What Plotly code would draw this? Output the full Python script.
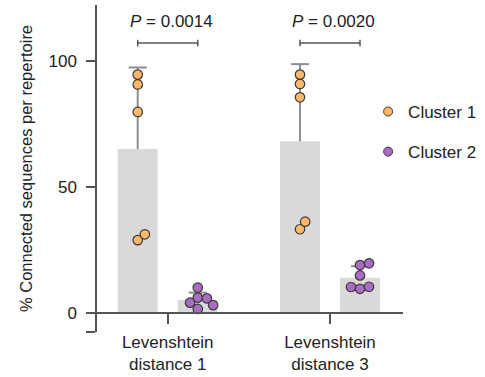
import math
import numpy as np
import plotly.graph_objects as go

# ---------------- data ----------------
categories = ["Levenshtein<br>distance 1", "Levenshtein<br>distance 3"]
series_names = ["Cluster 1", "Cluster 2"]
cluster1_values = [
    [94.5, 90.6, 79.7, 28.9, 31.2],   # distance 1
    [94.5, 90.8, 85.5, 33.2, 36.2],   # distance 3
]
cluster2_values = [
    [10.1, 6.1, 5.8, 4.1, 3.1, 1.6],  # distance 1
    [19.0, 19.7, 14.9, 9.6, 10.4, 10.3],  # distance 3
]
p_values = ["0.0014", "0.0020"]
y_tick_values = [0, 50, 100]
y_tick_labels = ["0", "50", "100"]

# ---------------- style / layout ----------------
W, H = 485, 377
M_L, M_R, M_T, M_B = 97, 82, 5, 45
X_RANGE = [-0.436, 1.45]
Y_RANGE = [-7.53, 122.1]
BAR_OFFSET = 0.185
BAR_WIDTH = 0.246
BRACKET_Y = 107
BRACKET_TICK = 1.3
FONT = "Liberation Sans, Arial, Helvetica, sans-serif"
TXT = "#222222"
AXIS = "#555555"
BAR_COLOR = "#d9d9d9"
ERR_COLOR = "#8e8e8e"
COLORS = ["#ffb867", "#a96cc3"]
OUTLINE = "#3a3a3a"
MARKER = 9.5
CAP_PX = 9

px_per_x = (W - M_L - M_R) / (X_RANGE[1] - X_RANGE[0])
px_per_y = (H - M_T - M_B) / (Y_RANGE[1] - Y_RANGE[0])


def swarm(values, diam=9.2):
    placed, out = [], []
    for v in values:
        y = v * px_per_y
        cands = [0.0]
        for xp, yp in placed:
            dy = abs(y - yp)
            if dy < diam:
                dx = math.sqrt(diam ** 2 - dy ** 2)
                cands += [xp + dx, xp - dx]
        cands.sort(key=abs)
        chosen = 0.0
        for c in cands:
            if all((c - xp) ** 2 + (y - yp) ** 2 >= diam ** 2 - 1e-6 for xp, yp in placed):
                chosen = c
                break
        placed.append((chosen, y))
        out.append(chosen / px_per_x)
    return out


fig = go.Figure()
group_x = list(range(len(categories)))
cap = CAP_PX / px_per_x

for si, (name, vals) in enumerate(zip(series_names, [cluster1_values, cluster2_values])):
    sign = -1 if si == 0 else 1
    xs = [g + sign * BAR_OFFSET for g in group_x]
    means = [float(np.mean(v)) for v in vals]
    sds = [float(np.std(v, ddof=1)) for v in vals]
    fig.add_trace(go.Bar(
        x=xs, y=means, width=BAR_WIDTH, marker=dict(color=BAR_COLOR, line=dict(width=0)),
        showlegend=False, hoverinfo="skip",
    ))
    ex, ey = [], []
    for xc, m, s in zip(xs, means, sds):
        ex += [xc, xc, None, xc - cap, xc + cap, None]
        ey += [m, m + s, None, m + s, m + s, None]
    fig.add_trace(go.Scatter(x=ex, y=ey, mode="lines", line=dict(color=ERR_COLOR, width=2),
                             showlegend=False, hoverinfo="skip"))
    for gi, v in enumerate(vals):
        offs = swarm(v)
        fig.add_trace(go.Scatter(
            x=[xs[gi] + o for o in offs], y=v, mode="markers",
            marker=dict(size=MARKER, color=COLORS[si], line=dict(color=OUTLINE, width=1.2)),
            name=name, legendgroup=name, showlegend=False,
        ))
    fig.add_trace(go.Scatter(
        x=[None], y=[None], mode="markers",
        marker=dict(size=9, color=COLORS[si], line=dict(color=OUTLINE, width=1)),
        name=name, legendgroup=name, showlegend=True,
    ))

# significance brackets
for g, p in zip(group_x, p_values):
    x1, x2 = g - BAR_OFFSET, g + BAR_OFFSET
    fig.add_shape(type="line", x0=x1, x1=x2, y0=BRACKET_Y, y1=BRACKET_Y,
                  line=dict(color=AXIS, width=1.5))
    for xe in (x1, x2):
        fig.add_shape(type="line", x0=xe, x1=xe, y0=BRACKET_Y - BRACKET_TICK,
                      y1=BRACKET_Y + BRACKET_TICK, line=dict(color=AXIS, width=1.5))
    fig.add_annotation(x=g, y=BRACKET_Y, yshift=22, xshift=4, text=f"<i>P</i> = {p}",
                       showarrow=False, font=dict(family=FONT, size=17, color=TXT))

fig.update_layout(
    width=W, height=H,
    margin=dict(l=M_L, r=M_R, t=M_T, b=M_B, autoexpand=False),
    plot_bgcolor="white", paper_bgcolor="white",
    barmode="overlay",
    font=dict(family=FONT, size=17, color=TXT),
    legend=dict(x=0.886, y=0.728, xanchor="left", yanchor="top",
                font=dict(family=FONT, size=17, color=TXT),
                tracegroupgap=15, itemwidth=30, bgcolor="rgba(0,0,0,0)"),
    xaxis=dict(range=X_RANGE, tickvals=group_x, ticktext=categories, automargin=False,
               showline=True, linecolor=AXIS, linewidth=1.5,
               ticks="outside", ticklen=10, tickcolor=AXIS, tickwidth=1.5,
               ticklabelstandoff=4,
               anchor="free", position=(0 - Y_RANGE[0]) / (Y_RANGE[1] - Y_RANGE[0]),
               showgrid=False, zeroline=False, tickfont=dict(size=17, color=TXT)),
    yaxis=dict(range=Y_RANGE, tickvals=y_tick_values, ticktext=y_tick_labels, automargin=False,
               showline=True, linecolor=AXIS, linewidth=1.5,
               ticks="outside", ticklen=9, tickcolor=AXIS, tickwidth=1.5,
               ticklabelstandoff=6,
               minor=dict(tickvals=[Y_RANGE[0]], ticks="outside", ticklen=9,
                          tickcolor=AXIS, tickwidth=1.5, showgrid=False),
               showgrid=False, zeroline=False, tickfont=dict(size=17, color=TXT),
               title=dict(text="% Connected sequences per repertoire",
                          font=dict(size=16.5, color=TXT), standoff=12)),
)

fig.write_html("out.html", config={"displayModeBar": False},
               post_script="document.body.style.margin='0';")
